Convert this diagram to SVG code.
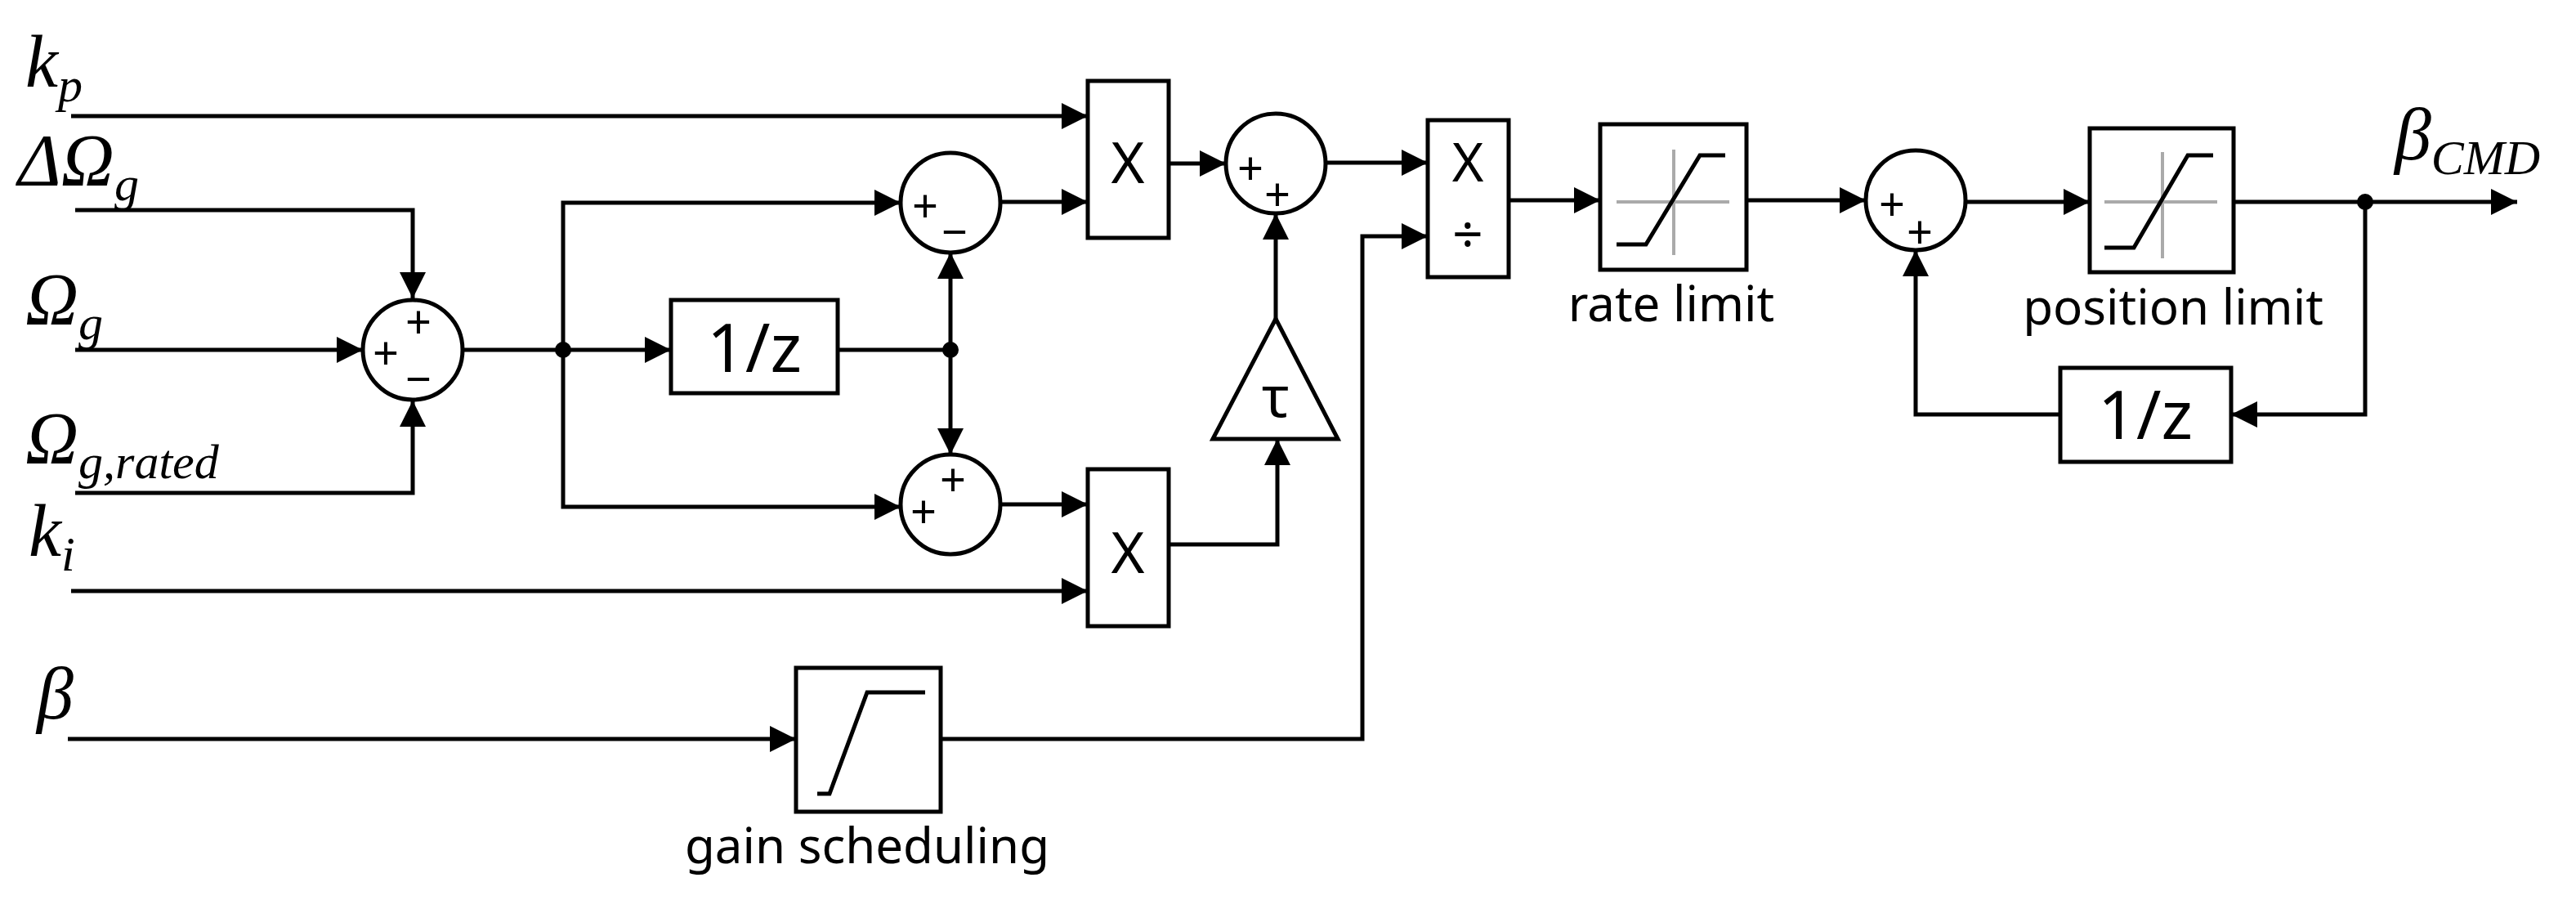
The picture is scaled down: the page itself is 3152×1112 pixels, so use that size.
<svg xmlns="http://www.w3.org/2000/svg" width="3152" height="1112" viewBox="0 0 3152 1112">
<style>
.w{fill:none;stroke:#000;stroke-width:5}
.b{fill:#fff;stroke:#000;stroke-width:5}
.g{fill:none;stroke:#aaa;stroke-width:4}
.m{font-family:"Liberation Serif","DejaVu Serif",serif;font-style:italic;font-size:90px}
.s{font-size:60px}
.t{font-family:"Noto Sans","Open Sans",sans-serif;text-anchor:middle}
.sg{font-family:"Noto Sans","Open Sans",sans-serif;font-size:56px;text-anchor:middle;dominant-baseline:central}
</style>
<defs>
<marker id="a" viewBox="0 0 32 32" refX="32" refY="16" markerWidth="32" markerHeight="32" markerUnits="userSpaceOnUse" orient="auto"><path d="M0,0L32,16L0,32z"/></marker>
</defs>
<g id="labels">
<text class="m" x="31" y="106">k<tspan class="s" dy="18">p</tspan></text>
<text class="m" x="22" y="227">ΔΩ<tspan class="s" dy="18">g</tspan></text>
<text class="m" x="31" y="397">Ω<tspan class="s" dy="18">g</tspan></text>
<text class="m" x="31" y="567">Ω<tspan class="s" dy="18">g,rated</tspan></text>
<text class="m" x="35" y="680">k<tspan class="s" dy="18">i</tspan></text>
<text class="m" x="45" y="879">β</text>
<text class="m" x="2930" y="195">β<tspan class="s" dy="18">CMD</tspan></text>
</g>
<g id="connectors">
<path class="w" d="M87,142H1331" marker-end="url(#a)"/>
<path class="w" d="M92,257H505V365" marker-end="url(#a)"/>
<path class="w" d="M92,428H444" marker-end="url(#a)"/>
<path class="w" d="M92,603H505V490" marker-end="url(#a)"/>
<path class="w" d="M566,428H821" marker-end="url(#a)"/>
<path class="w" d="M689,428V248H1102" marker-end="url(#a)"/>
<path class="w" d="M689,428V620H1102" marker-end="url(#a)"/>
<path class="w" d="M1025,428H1163"/>
<path class="w" d="M1163,428V309" marker-end="url(#a)"/>
<path class="w" d="M1163,428V556" marker-end="url(#a)"/>
<path class="w" d="M1224,247H1331" marker-end="url(#a)"/>
<path class="w" d="M1224,617H1331" marker-end="url(#a)"/>
<path class="w" d="M87,723H1331" marker-end="url(#a)"/>
<path class="w" d="M1430,200H1500" marker-end="url(#a)"/>
<path class="w" d="M1430,666H1563V537" marker-end="url(#a)"/>
<path class="w" d="M1561,390V261" marker-end="url(#a)"/>
<path class="w" d="M83,904H974" marker-end="url(#a)"/>
<path class="w" d="M1151,904H1667V289H1747" marker-end="url(#a)"/>
<path class="w" d="M1622,199H1747" marker-end="url(#a)"/>
<path class="w" d="M1846,245H1958" marker-end="url(#a)"/>
<path class="w" d="M2137,245H2283" marker-end="url(#a)"/>
<path class="w" d="M2405,247H2557" marker-end="url(#a)"/>
<path class="w" d="M2733,247H3080" marker-end="url(#a)"/>
<path class="w" d="M2894,247V507H2730" marker-end="url(#a)"/>
<path class="w" d="M2521,507H2344V306" marker-end="url(#a)"/>
<circle cx="689" cy="428" r="10"/>
<circle cx="1163" cy="428" r="10"/>
<circle cx="2894" cy="247" r="10"/>
</g>
<g id="sum1"><circle class="b" cx="505" cy="428" r="61"/><text class="sg" x="512" y="392">+</text><text class="sg" x="472" y="430">+</text><text class="sg" x="512" y="462">−</text></g>
<g id="delay1"><rect class="b" x="821" y="367" width="204" height="114"/><text class="t" x="923" y="455" font-size="82">1/z</text></g>
<g id="sum2"><circle class="b" cx="1163" cy="248" r="61"/><text class="sg" x="1132" y="250">+</text><text class="sg" x="1168" y="282">−</text></g>
<g id="sum3"><circle class="b" cx="1163" cy="617" r="61"/><text class="sg" x="1166" y="585">+</text><text class="sg" x="1130" y="624">+</text></g>
<g id="mult1"><rect class="b" x="1331" y="99" width="99" height="192"/><text class="t" x="1380" y="224" font-size="70">X</text></g>
<g id="mult2"><rect class="b" x="1331" y="574" width="99" height="192"/><text class="t" x="1380" y="701" font-size="70">X</text></g>
<g id="sum4"><circle class="b" cx="1561" cy="200" r="61"/><text class="sg" x="1530" y="204">+</text><text class="sg" x="1563" y="236">+</text></g>
<g id="gain"><path class="b" d="M1484,537L1561,390L1637,537z"/><text class="t" x="1561" y="510" font-size="70">τ</text></g>
<g id="gainsched"><rect class="b" x="974" y="817" width="177" height="176"/><path class="w" d="M1000,971H1015L1061,847H1132"/><text class="t" x="1061" y="1056" font-size="60">gain scheduling</text></g>
<g id="divide"><rect class="b" x="1747" y="147" width="99" height="192"/><text class="t" x="1796" y="222" font-size="66">X</text><text class="t" x="1796" y="310" font-size="66">÷</text></g>
<g id="ratelimit"><rect class="b" x="1958" y="152" width="179" height="178"/><path class="g" d="M1978,247H2116M2048,183V312"/><path class="w" d="M1978,299H2014L2080,190H2111"/><text class="t" x="2045" y="393" font-size="60">rate limit</text></g>
<g id="sum5"><circle class="b" cx="2344" cy="245" r="61"/><text class="sg" x="2315" y="248">+</text><text class="sg" x="2349" y="282">+</text></g>
<g id="poslimit"><rect class="b" x="2557" y="157" width="176" height="176"/><path class="g" d="M2575,247H2713M2646,186V316"/><path class="w" d="M2575,303H2611L2677,190H2708"/><text class="t" x="2659" y="397" font-size="60">position limit</text></g>
<g id="delay2"><rect class="b" x="2521" y="450" width="209" height="115"/><text class="t" x="2625" y="537" font-size="82">1/z</text></g>
</svg>
